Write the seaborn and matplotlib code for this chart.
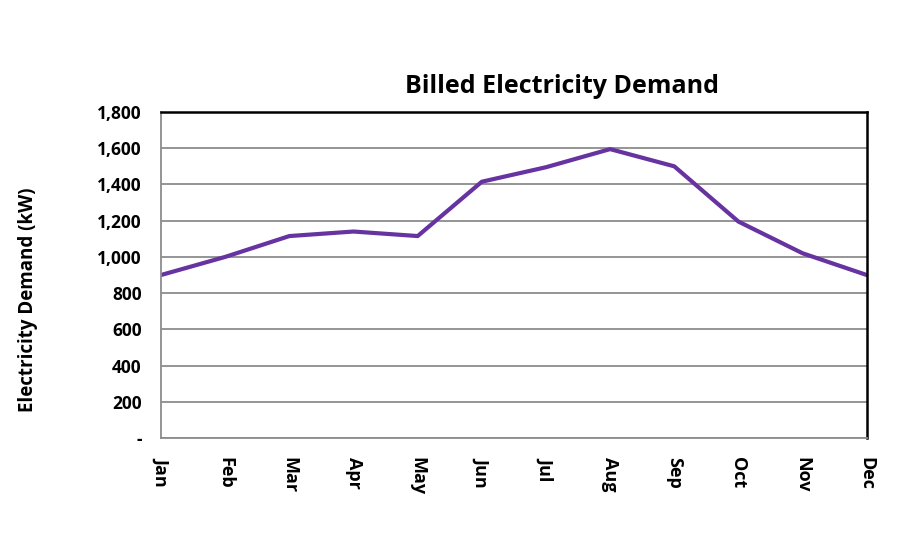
import pandas as pd
import matplotlib
matplotlib.use('Agg')
import matplotlib.pyplot as plt
import seaborn as sns
from matplotlib.ticker import FuncFormatter

# Dados
months = ['Jan', 'Feb', 'Mar', 'Apr', 'May', 'Jun', 'Jul', 'Aug', 'Sep', 'Oct', 'Nov', 'Dec']
demand_kw = [900, 1000, 1115, 1140, 1115, 1415, 1495, 1595, 1500, 1195, 1020, 900]
y_ticks = [0, 200, 400, 600, 800, 1000, 1200, 1400, 1600, 1800]

sns.set_style('white')
plt.rcParams['font.family'] = ['Open Sans', 'DejaVu Sans']
plt.rcParams['text.color'] = 'black'
plt.rcParams['xtick.color'] = 'black'
plt.rcParams['ytick.color'] = 'black'

df = pd.DataFrame({'month': months, 'demand': demand_kw})
df['pos'] = range(len(df))

fig = plt.figure(figsize=(9, 5.5), dpi=100)
ax = fig.add_axes([0.179, 0.2036, 0.784, 0.5928])

ax.yaxis.grid(True, color='#8c8c8c', linewidth=1.3)
ax.set_axisbelow(True)
sns.lineplot(data=df, x='pos', y='demand', color='#6633a0', linewidth=3, ax=ax)

ax.set_xlim(0, len(months) - 1)
ax.set_ylim(0, 1800)
ax.set_yticks(y_ticks)
ax.yaxis.set_major_formatter(FuncFormatter(lambda v, p: '-' if v == 0 else f'{v:,.0f}'))
ax.set_xticks(df['pos'])
ax.set_xticklabels(months, rotation=270, fontweight='bold', fontsize=13)
for lab in ax.get_yticklabels():
    lab.set_fontweight('bold')
    lab.set_fontsize(12.5)

ax.tick_params(axis='x', direction='out', length=6, color='#8c8c8c', width=1.2, pad=8)
ax.tick_params(axis='y', length=0, pad=14)

for side in ['left', 'bottom']:
    ax.spines[side].set_color('#8c8c8c')
    ax.spines[side].set_linewidth(1.3)
for side in ['top', 'right']:
    ax.spines[side].set_color('black')
    ax.spines[side].set_linewidth(1.8)

ax.set_xlabel('')
ax.set_ylabel('')
fig.text(0.624, 0.842, 'Billed Electricity Demand', ha='center', va='center',
         fontsize=18, fontweight='bold')
fig.text(0.031, 0.455, 'Electricity Demand (kW)', ha='center', va='center',
         rotation=90, fontsize=13.5, fontweight='bold')

fig.savefig('out.png', dpi=100, facecolor='white')
